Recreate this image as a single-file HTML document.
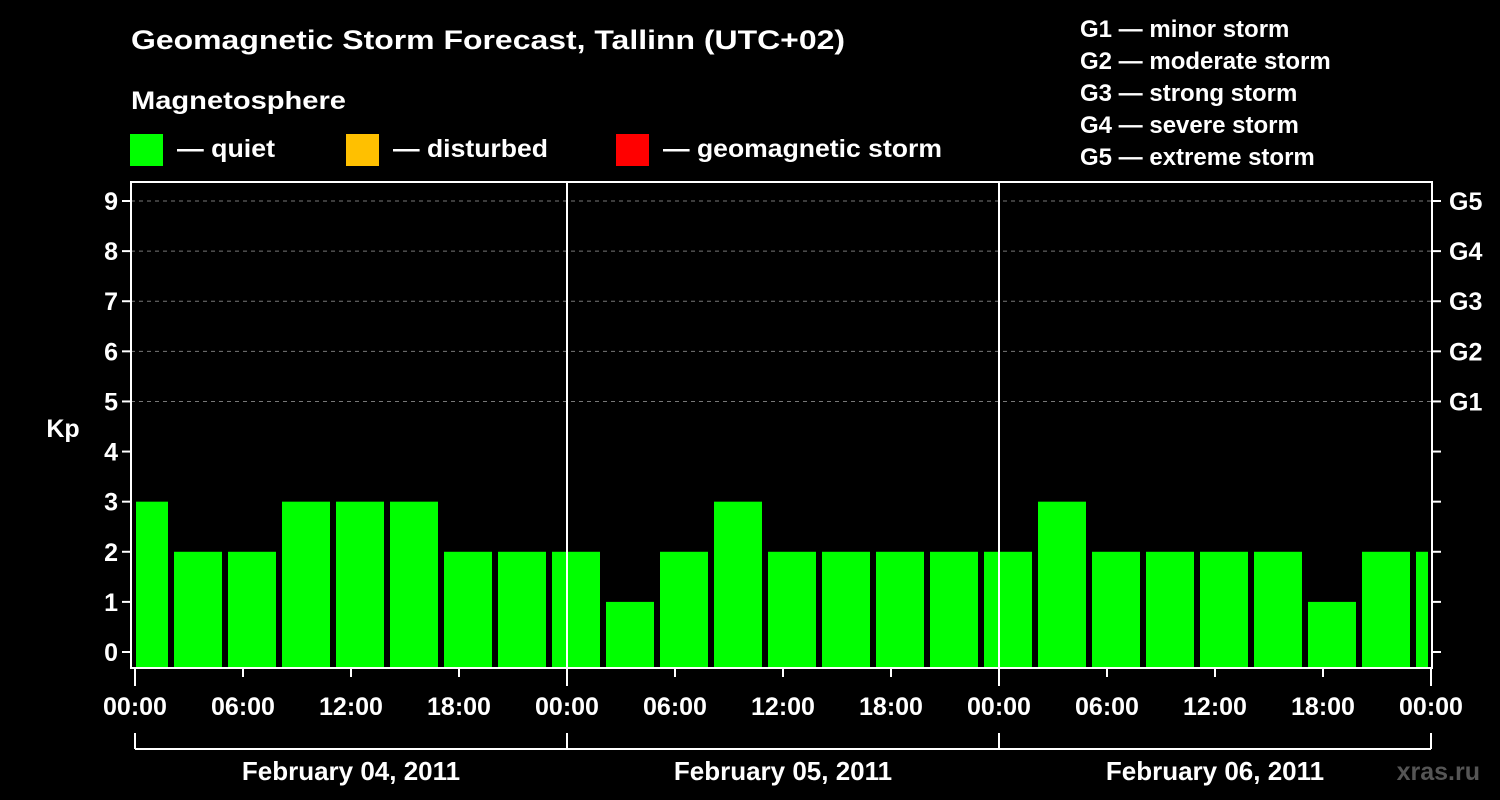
<!DOCTYPE html>
<html><head><meta charset="utf-8"><style>
html,body{margin:0;padding:0;background:#000;}
svg{display:block;font-family:"Liberation Sans",Arial,sans-serif;font-weight:bold;}
</style></head><body>
<svg id="chart" width="1500" height="800" viewBox="0 0 1500 800" xmlns="http://www.w3.org/2000/svg">
<rect width="1500" height="800" fill="#000"/>
<text x="131" y="49" fill="#fff" font-size="27" textLength="714" lengthAdjust="spacingAndGlyphs">Geomagnetic Storm Forecast, Tallinn (UTC+02)</text>
<text x="131" y="109" fill="#fff" font-size="25" textLength="215" lengthAdjust="spacingAndGlyphs">Magnetosphere</text>
<g>
<rect x="130" y="134" width="33" height="32" fill="#00ff00"/>
<text x="177" y="157" fill="#fff" font-size="25" textLength="98" lengthAdjust="spacingAndGlyphs">— quiet</text></g>
<g>
<rect x="346" y="134" width="33" height="32" fill="#ffc000"/>
<text x="393" y="157" fill="#fff" font-size="25" textLength="155" lengthAdjust="spacingAndGlyphs">— disturbed</text></g>
<g>
<rect x="616" y="134" width="33" height="32" fill="#ff0000"/>
<text x="663" y="157" fill="#fff" font-size="25" textLength="279" lengthAdjust="spacingAndGlyphs">— geomagnetic storm</text></g>
<g fill="#fff" font-size="24">
<text x="1080" y="37">G1 — minor storm</text>
<text x="1080" y="69">G2 — moderate storm</text>
<text x="1080" y="101">G3 — strong storm</text>
<text x="1080" y="133">G4 — severe storm</text>
<text x="1080" y="165">G5 — extreme storm</text>
</g>
<defs><clipPath id="plotclip"><rect x="136" y="183" width="1292" height="485"/></clipPath></defs>
<g id="grid"></g>
<g id="bars" clip-path="url(#plotclip)"></g>
<g id="axes"></g>
<text x="63" y="437" fill="#fff" font-size="25" text-anchor="middle">Kp</text>
<text x="1480" y="780" fill="#555" font-size="25" text-anchor="end">xras.ru</text>
</svg>
<script>
const kpValues = [3,2,2,3,3,3,2,2, 2,1,2,3,2,2,2,2, 2,3,2,2,2,2,1,2, 2];
const barHours = [0.5,3.5,6.5,9.5,12.5,15.5,18.5,21.5,24.5,27.5,30.5,33.5,36.5,39.5,42.5,45.5,48.5,51.5,54.5,57.5,60.5,63.5,66.5,69.5,72.5];
const yTicks = [0,1,2,3,4,5,6,7,8,9];
const gLabels = ['G1','G2','G3','G4','G5'];
const gLevels = [5,6,7,8,9];
const timeLabels = ['00:00','06:00','12:00','18:00','00:00','06:00','12:00','18:00','00:00','06:00','12:00','18:00','00:00'];
const dayLabels = ['February 04, 2011','February 05, 2011','February 06, 2011'];

const NS='http://www.w3.org/2000/svg';
const X0=135, PXH=18, Y0=652, PXK=50.11, BOT=668, TOP=182, LEFT=131, RIGHT=1432;
const x = h => X0 + h*PXH;
const y = k => Y0 - k*PXK;
function mk(tag, attrs, parent, txt){const e=document.createElementNS(NS,tag);for(const k in attrs)e.setAttribute(k,attrs[k]);if(txt!==undefined)e.textContent=txt;parent.appendChild(e);return e;}
const grid=document.getElementById('grid'), bars=document.getElementById('bars'), axes=document.getElementById('axes');

gLevels.forEach(k=>{
  const l=mk('line',{x1:LEFT,x2:RIGHT,y1:y(k),y2:y(k),stroke:'#777','stroke-width':1,'stroke-dasharray':'4,4'},grid);
  
  
});
kpValues.forEach((v,i)=>{
  const c=x(barHours[i]);
  const color = v>=5?'#ff0000':(v>=4?'#ffc000':'#00ff00');
  const r=mk('rect',{x:c-24,y:y(v),width:48,height:BOT-y(v),fill:color},bars);
  
  
});
// day separators
[1,2].forEach(d=>{
  const l=mk('line',{x1:x(24*d),x2:x(24*d),y1:TOP,y2:BOT,stroke:'#fff','stroke-width':2},axes);
  
  
});
const frame=mk('rect',{x:LEFT,y:TOP,width:RIGHT-LEFT,height:BOT-TOP,fill:'none',stroke:'#fff','stroke-width':2},axes);


yTicks.forEach(k=>{
  mk('line',{x1:LEFT-9,x2:LEFT,y1:y(k),y2:y(k),stroke:'#fff','stroke-width':2},axes);
  mk('line',{x1:RIGHT,x2:RIGHT+9,y1:y(k),y2:y(k),stroke:'#fff','stroke-width':2},axes);
  const t=mk('text',{x:LEFT-13,y:y(k)+9,fill:'#fff','font-size':25,'text-anchor':'end'},axes,String(k));
  
  
});
gLabels.forEach((g,i)=>{
  const t=mk('text',{x:RIGHT+17,y:y(gLevels[i])+9,fill:'#fff','font-size':25},axes,g);
  
  
});
timeLabels.forEach((s,i)=>{
  const h=i*6, major=(i%4===0);
  mk('line',{x1:x(h),x2:x(h),y1:BOT,y2:BOT+(major?18:9),stroke:'#fff','stroke-width':2},axes);
  const t=mk('text',{x:x(h),y:715,fill:'#fff','font-size':25,'text-anchor':'middle'},axes,s);
  
  
});
mk('line',{x1:x(0),x2:x(72),y1:749,y2:749,stroke:'#fff','stroke-width':2},axes);
[0,1,2,3].forEach(d=>mk('line',{x1:x(24*d),x2:x(24*d),y1:733,y2:749,stroke:'#fff','stroke-width':2},axes));
dayLabels.forEach((s,i)=>{
  const t=mk('text',{x:x(24*i+12),y:780,fill:'#fff','font-size':26,'text-anchor':'middle'},axes,s);
  
  
});
</script>
</body></html>
